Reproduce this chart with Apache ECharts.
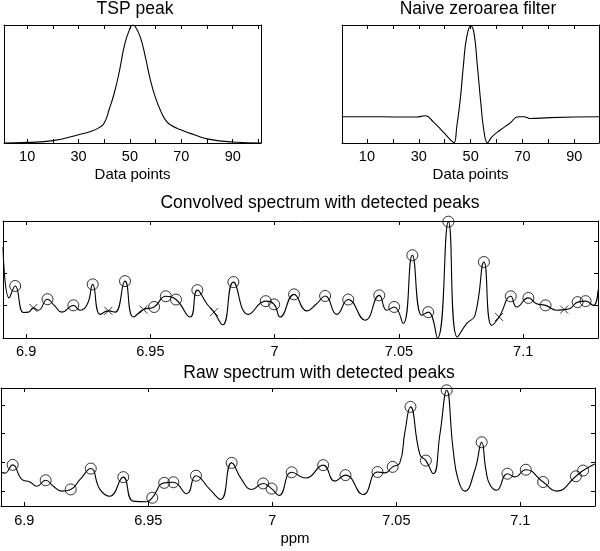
<!DOCTYPE html>
<html>
<head>
<meta charset="utf-8">
<script src="https://cdn.jsdelivr.net/npm/echarts@6/dist/echarts.min.js"></script>
<style>
  html, body { margin: 0; padding: 0; background: #fff; }
  #main { width: 600px; height: 551px; }
</style>
</head>
<body>
<div id="main"></div>
<script>
// TSP peak (data point index vs. normalised height)
const tspX = [1, 10, 20, 30, 35, 38, 40, 42, 44, 46, 48, 50, 51, 52, 54, 56, 58, 60, 62, 64, 66, 70, 75, 80, 90, 101];
const tspY = [0, 0.005, 0.02, 0.07, 0.10, 0.13, 0.17, 0.29, 0.43, 0.62, 0.84, 0.97, 1.0, 0.99, 0.90, 0.73, 0.53, 0.38, 0.27, 0.19, 0.15, 0.11, 0.07, 0.035, 0.008, 0];

// naive zero-area filter
const filterX = [0.4, 10, 20, 29, 32.5, 35.7, 39.5, 42.7, 43.6, 44.7, 46.0, 47.2, 48.5, 50.1, 51.3, 52.6, 53.9, 55.2, 56.5, 58.1, 61.3, 65.2, 68.4, 70.5, 73, 80.6, 99.5];
const filterY = [0, 0, -0.003, -0.004, 0.01, -0.06, -0.17, -0.27, -0.287, -0.10, 0.19, 0.56, 0.88, 1.0, 0.92, 0.56, 0.16, -0.17, -0.287, -0.225, -0.15, -0.07, 0, 0, -0.02, -0.01, 0];

// convolved spectrum
const convPpm = [6.8907, 6.8932, 6.8956, 6.8989, 6.9009, 6.9029, 6.9049, 6.9086, 6.9113, 6.9144, 6.9190, 6.9217, 6.9247, 6.9268, 6.9298, 6.9331, 6.9358, 6.9398, 6.9432, 6.9472, 6.9515, 6.9562, 6.9603, 6.9660, 6.9689, 6.9727, 6.9756, 6.9791, 6.9834, 6.9894, 6.9964, 6.9998, 7.0022, 7.0078, 7.0129, 7.0169, 7.0203, 7.0250, 7.0296, 7.0364, 7.0421, 7.0451, 7.0481, 7.0517, 7.0554, 7.0592, 7.0618, 7.0655, 7.0699, 7.0735, 7.0773, 7.0806, 7.0842, 7.0873, 7.0903, 7.0950, 7.0974, 7.1021, 7.1054, 7.1090, 7.1135, 7.1165, 7.1188, 7.1219, 7.1251, 7.1282, 7.1301];
const convInt = [2.82, 1.24, 1.61, 0.79, 0.80, 0.93, 0.86, 1.20, 1.01, 0.80, 1.01, 0.86, 1.06, 1.66, 0.73, 0.84, 0.80, 1.76, 0.65, 0.88, 0.96, 1.29, 1.19, 0.65, 1.48, 1.06, 0.80, 0.41, 1.73, 0.73, 1.14, 1.04, 0.65, 1.35, 0.84, 1.06, 1.30, 0.73, 1.19, 0.55, 1.32, 0.86, 0.96, 0.45, 2.56, 0.70, 0.80, 0.0, 3.6, 0.03, 0.45, 0.70, 2.35, 0.39, 0.65, 1.29, 0.96, 1.24, 1.06, 1.01, 0.86, 0.88, 0.91, 1.11, 1.14, 1.01, 1.48];
const convPeakPpm = [6.8956, 6.9086, 6.9190, 6.9268, 6.9398, 6.9515, 6.9562, 6.9603, 6.9689, 6.9834, 6.9964, 6.9998, 7.0078, 7.0203, 7.0296, 7.0421, 7.0481, 7.0554, 7.0618, 7.0699, 7.0842, 7.0950, 7.1021, 7.1090, 7.1219, 7.1251];
const convPeakInt = [1.61, 1.20, 1.01, 1.66, 1.76, 0.96, 1.29, 1.19, 1.48, 1.73, 1.14, 1.04, 1.35, 1.30, 1.19, 1.32, 0.96, 2.56, 0.80, 3.6, 2.35, 1.29, 1.24, 1.01, 1.11, 1.14];
const convRejPpm = [6.9029, 6.9331, 6.9472, 6.9756, 7.0903, 7.1165];
const convRejInt = [0.93, 0.84, 0.88, 0.80, 0.65, 0.88];

// raw spectrum
const rawPpm = [6.8906, 6.8922, 6.8953, 6.8990, 6.9023, 6.9050, 6.9086, 6.9116, 6.9151, 6.9187, 6.9225, 6.9268, 6.9305, 6.9345, 6.9399, 6.9439, 6.9493, 6.9516, 6.9564, 6.9601, 6.9655, 6.9692, 6.9748, 6.9792, 6.9836, 6.9876, 6.9917, 6.9963, 6.9997, 7.0027, 7.0078, 7.0135, 7.0205, 7.0252, 7.0295, 7.0366, 7.0424, 7.0454, 7.0485, 7.0514, 7.0534, 7.0557, 7.0595, 7.0619, 7.0649, 7.0676, 7.0703, 7.0729, 7.0749, 7.0776, 7.0817, 7.0844, 7.0861, 7.0877, 7.0904, 7.0948, 7.0978, 7.1022, 7.1092, 7.1146, 7.1224, 7.1253, 7.1300];
const rawInt = [0.67, 0.62, 0.91, 0.40, 0.31, 0.16, 0.37, 0.17, -0.01, 0.05, 0.40, 0.78, 0.05, -0.19, 0.48, -0.36, -0.38, -0.24, 0.28, 0.30, -0.10, 0.53, 0.05, -0.30, 0.98, 0.40, 0.05, 0.26, 0.08, -0.16, 0.65, 0.45, 0.90, 0.34, 0.55, -0.13, 0.66, 0.63, 0.84, 0.98, 2.03, 2.94, 1.27, 1.06, 0.60, 2.0, 3.52, 1.44, 0.40, -0.01, 0.74, 1.70, 0.74, 0.22, 0.02, 0.60, 0.49, 0.74, 0.31, -0.01, 0.51, 0.71, 0.94];
const rawPeakPpm = [6.8953, 6.9086, 6.9187, 6.9268, 6.9399, 6.9516, 6.9564, 6.9601, 6.9692, 6.9836, 6.9963, 6.9997, 7.0078, 7.0205, 7.0295, 7.0424, 7.0485, 7.0557, 7.0619, 7.0703, 7.0844, 7.0948, 7.1022, 7.1092, 7.1224, 7.1253];
const rawPeakInt = [0.91, 0.37, 0.05, 0.78, 0.48, -0.24, 0.28, 0.30, 0.53, 0.98, 0.26, 0.08, 0.65, 0.90, 0.55, 0.66, 0.84, 2.94, 1.06, 3.52, 1.70, 0.60, 0.74, 0.31, 0.51, 0.71];

// tick positions
const pointTicks1 = [10, 20, 30, 40, 50, 60, 70, 80, 90, 100];
const pointTicks2 = [10, 20, 30, 40, 50, 60, 70, 80, 90];
const pointLabels = [10, 30, 50, 70, 90];
const ppmTicks = [6.9, 6.95, 7, 7.05, 7.1];
const convYTicks = [0, 1, 2, 3];
const rawYTicks = [0, 1, 2, 3];

const FONT = '"Liberation Sans", Arial, Helvetica, sans-serif';
const zip = (a, b) => a.map((v, i) => [v, b[i]]);

function xAxes(grid, min, max, ticks, labels, margin, name) {
    const tick = { show: true, inside: true, length: 4, customValues: ticks, lineStyle: { color: '#000' } };
    const line = { onZero: false, lineStyle: { color: '#000', width: 1 } };
    const bottom = {
        type: 'value', gridIndex: grid, position: 'bottom', min: min, max: max,
        splitLine: { show: false }, axisLine: line, axisTick: tick,
        axisLabel: { customValues: labels, color: '#000', fontSize: 14.5, fontFamily: FONT, margin: margin }
    };
    if (name) {
        bottom.name = name;
        bottom.nameLocation = 'middle';
        bottom.nameGap = 24;
        bottom.nameTextStyle = { color: '#000', fontSize: 15, fontFamily: FONT };
    }
    const top = {
        type: 'value', gridIndex: grid, position: 'top', min: min, max: max,
        splitLine: { show: false }, axisLine: line, axisTick: tick, axisLabel: { show: false }
    };
    return [bottom, top];
}

function yAxes(grid, min, max, ticks) {
    const tick = ticks.length
        ? { show: true, inside: true, length: 4, customValues: ticks, lineStyle: { color: '#000' } }
        : { show: false };
    const line = { onZero: false, lineStyle: { color: '#000', width: 1 } };
    return ['left', 'right'].map(pos => ({
        type: 'value', gridIndex: grid, position: pos, min: min, max: max,
        splitLine: { show: false }, axisLine: line, axisTick: tick, axisLabel: { show: false }
    }));
}

function curve(axis, data) {
    return {
        type: 'line', xAxisIndex: axis, yAxisIndex: axis, data: data,
        showSymbol: false, smooth: 0.5,
        lineStyle: { color: '#000', width: 1.1 }
    };
}

function marks(axis, data, symbol, size) {
    return {
        type: 'scatter', xAxisIndex: axis, yAxisIndex: axis, data: data,
        symbol: symbol, symbolSize: size, clip: false,
        itemStyle: { color: 'none', borderColor: '#000', borderWidth: 1 }
    };
}

const titleStyle = { color: '#000', fontSize: 17.5, fontWeight: 'normal', fontFamily: FONT };

const chart = echarts.init(document.getElementById('main'));
chart.setOption({
    animation: false,
    backgroundColor: '#fff',
    title: [
        { text: 'TSP peak', left: 135, top: 0, textAlign: 'center', padding: 0, textStyle: titleStyle },
        { text: 'Naive zeroarea filter', left: 478, top: 0, textAlign: 'center', padding: 0, textStyle: titleStyle },
        { text: 'Convolved spectrum with detected peaks', left: 320, top: 194, textAlign: 'center', padding: 0, textStyle: titleStyle },
        { text: 'Raw spectrum with detected peaks', left: 319, top: 364, textAlign: 'center', padding: 0, textStyle: titleStyle },
        { text: 'ppm', left: 295, top: 531, textAlign: 'center', padding: 0,
          textStyle: { color: '#000', fontSize: 15, fontWeight: 'normal', fontFamily: FONT } }
    ],
    grid: [
        { left: 4, top: 25, width: 257, height: 118 },
        { left: 342, top: 25, width: 257, height: 118 },
        { left: 3, top: 221, width: 595, height: 117 },
        { left: 1, top: 388, width: 594, height: 118 }
    ],
    xAxis: [].concat(
        xAxes(0, 1, 101, pointTicks1, pointLabels, 6, 'Data points'),
        xAxes(1, 0.4, 99.5, pointTicks2, pointLabels, 6, 'Data points'),
        xAxes(2, 6.8907, 7.1301, ppmTicks, ppmTicks, 6),
        xAxes(3, 6.8906, 7.1301, ppmTicks, ppmTicks, 7)
    ),
    yAxis: [].concat(
        yAxes(0, 0, 1.0, []),
        yAxes(1, -0.29, 1.01, []),
        yAxes(2, 0, 3.62, convYTicks),
        yAxes(3, -0.53, 3.6, rawYTicks)
    ),
    series: [
        curve(0, zip(tspX, tspY)),
        curve(2, zip(filterX, filterY)),
        curve(4, zip(convPpm, convInt)),
        marks(4, zip(convPeakPpm, convPeakInt), 'circle', 11),
        marks(4, zip(convRejPpm, convRejInt), 'path://M0,0L10,10M10,0L0,10', 8),
        curve(6, zip(rawPpm, rawInt)),
        marks(6, zip(rawPeakPpm, rawPeakInt), 'circle', 11)
    ]
});
</script>
</body>
</html>
